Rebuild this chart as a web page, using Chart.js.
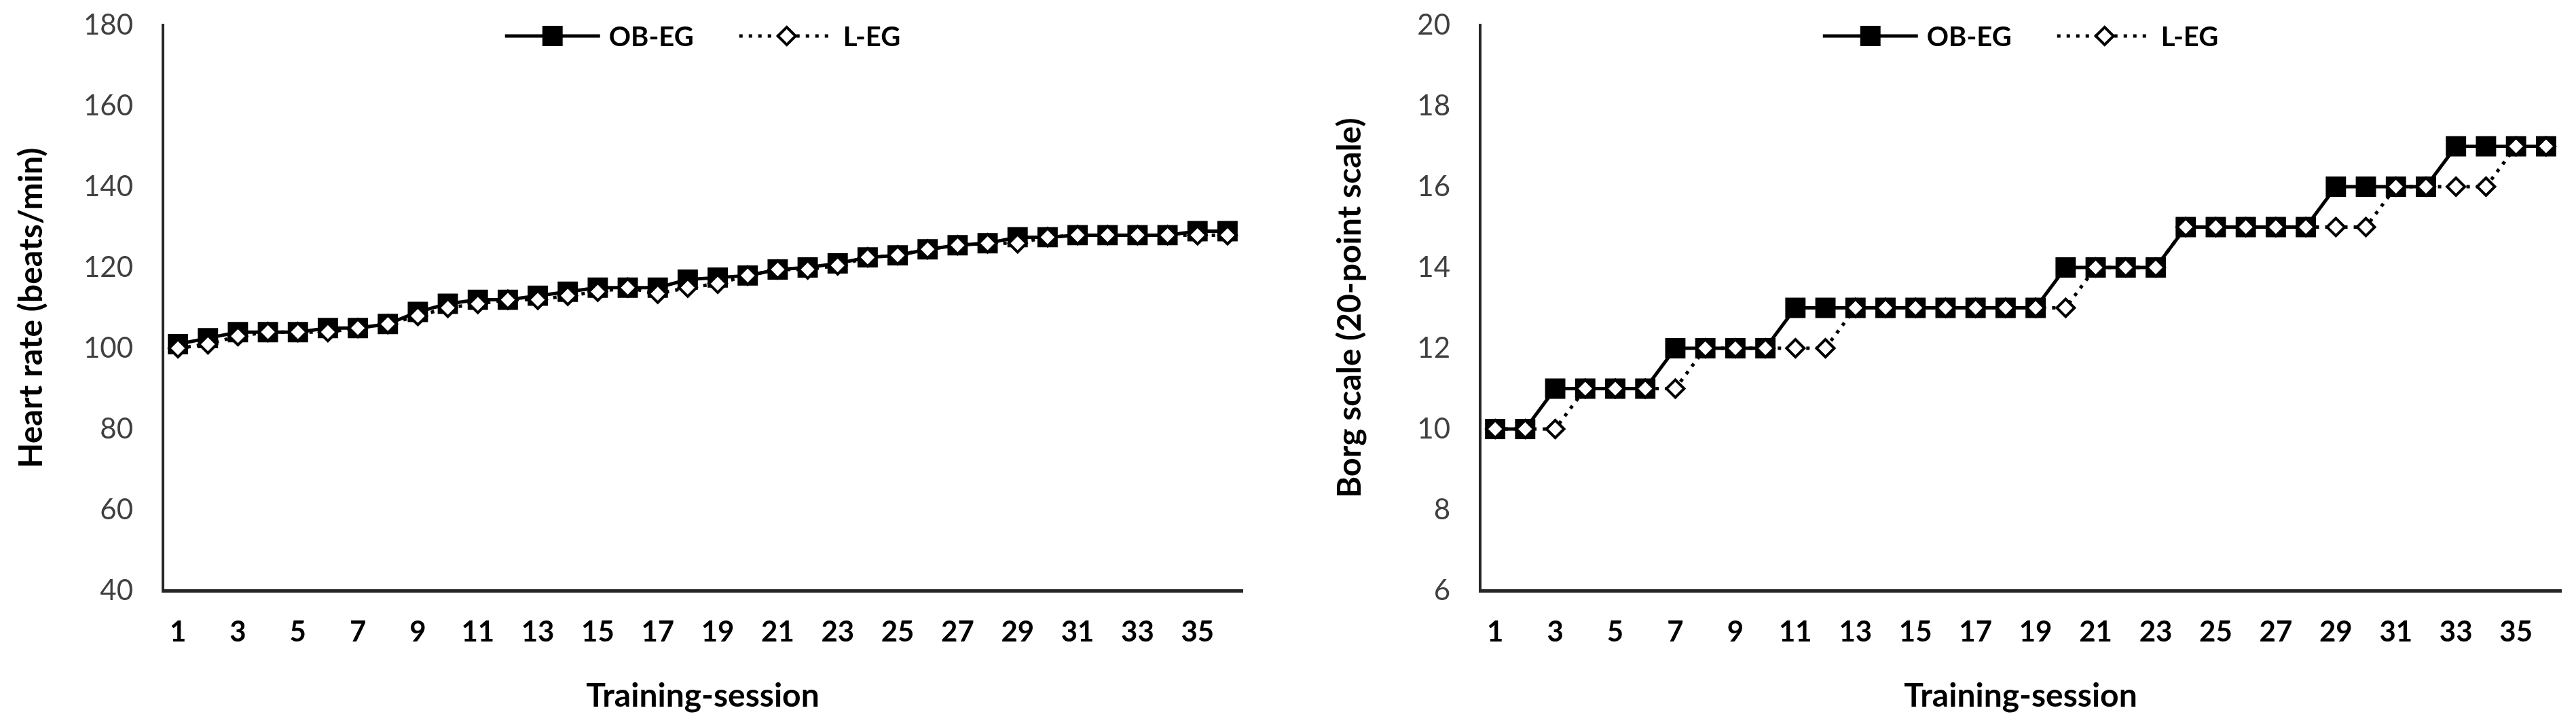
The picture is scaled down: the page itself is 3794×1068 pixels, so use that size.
<!DOCTYPE html>
<html>
<head>
<meta charset="utf-8">
<script src="https://cdn.jsdelivr.net/npm/chart.js@4/dist/chart.umd.min.js"></script>
<style>
  html, body { margin: 0; padding: 0; background: #ffffff; width: 3794px; height: 1068px; overflow: hidden; }
  .wrap { position: absolute; top: 0; height: 1068px; }
  #w1 { left: 0; width: 1900px; }
  #w2 { left: 1942px; width: 1852px; }
</style>
</head>
<body>
<div class="wrap" id="w1"><canvas id="c1" width="1900" height="1068"></canvas></div>
<div class="wrap" id="w2"><canvas id="c2" width="1852" height="1068"></canvas></div>
<script>
// ---------- data ----------
const sessions = ['1','2','3','4','5','6','7','8','9','10','11','12','13','14','15','16','17','18',
                  '19','20','21','22','23','24','25','26','27','28','29','30','31','32','33','34','35','36'];
const seriesNames = ['OB-EG', 'L-EG'];

const hrOBEG = [101, 102.5, 104, 104, 104, 105, 105, 106, 109, 111, 112, 112, 113, 114, 115, 115, 115, 117,
                117.5, 118, 119.5, 120, 121, 122.5, 123, 124.5, 125.5, 126, 127.5, 127.5, 128, 128, 128, 128, 129, 129];
const hrLEG  = [100, 101, 103, 104, 104, 104, 105, 106, 108, 110, 111, 112, 112, 113, 114, 115, 113.5, 115,
                116, 118, 119.5, 119.5, 120.5, 122.5, 123, 124.5, 125.5, 126, 126, 127.5, 128, 128, 128, 128, 128, 128];

const borgOBEG = [10, 10, 11, 11, 11, 11, 12, 12, 12, 12, 13, 13, 13, 13, 13, 13, 13, 13,
                  13, 14, 14, 14, 14, 15, 15, 15, 15, 15, 16, 16, 16, 16, 17, 17, 17, 17];
const borgLEG  = [10, 10, 10, 11, 11, 11, 11, 12, 12, 12, 12, 12, 13, 13, 13, 13, 13, 13,
                  13, 13, 14, 14, 14, 15, 15, 15, 15, 15, 15, 15, 16, 16, 16, 16, 17, 17];

const hrRange   = [40, 180, 20];
const borgRange = [6, 20, 2];

const hrTitle   = 'Heart rate (beats/min)';
const borgTitle = 'Borg scale (20-point scale)';
const xTitle    = 'Training-session';

// ---------- styling ----------
const FONT = 'Lato, "Open Sans", sans-serif';

function datasets(obeg, leg) {
  return [
    {
      label: seriesNames[0], data: obeg, order: 1,
      borderColor: '#000000', borderWidth: 5, backgroundColor: '#000000',
      pointStyle: 'rect', pointRadius: 19, pointBorderWidth: 3,
      pointBackgroundColor: '#000000', pointBorderColor: '#000000',
      tension: 0
    },
    {
      label: seriesNames[1], data: leg, order: 0,
      borderColor: '#000000', borderWidth: 5, borderDash: [5, 9], backgroundColor: '#ffffff',
      pointStyle: 'rectRot', pointRadius: 13, pointBorderWidth: 4,
      pointBackgroundColor: '#ffffff', pointBorderColor: '#000000',
      tension: 0
    }
  ];
}

const lineLegend = {
  id: 'lineLegend',
  afterDraw(chart) {
    const ctx = chart.ctx;
    const area = chart.chartArea;
    const y = 53, lineLen = 140, gap = 13, itemGap = 67;
    ctx.save();
    ctx.font = 'bold 40px ' + FONT;
    const dss = chart.data.datasets;
    const widths = dss.map(d => lineLen + gap + ctx.measureText(d.label).width);
    const total = widths.reduce((a, b) => a + b, 0) + itemGap * (dss.length - 1);
    let x = (area.left + area.right) / 2 - total / 2;
    dss.forEach((d, i) => {
      ctx.strokeStyle = d.borderColor;
      ctx.lineWidth = d.borderWidth;
      ctx.setLineDash(d.borderDash || []);
      ctx.beginPath();
      ctx.moveTo(x, y);
      ctx.lineTo(x + lineLen, y);
      ctx.stroke();
      ctx.setLineDash([]);
      const cx = x + lineLen / 2;
      ctx.fillStyle = d.pointBackgroundColor;
      ctx.lineWidth = d.pointBorderWidth;
      ctx.strokeStyle = d.pointBorderColor;
      ctx.beginPath();
      if (d.pointStyle === 'rect') {
        const s = d.pointRadius * Math.SQRT1_2;
        ctx.rect(cx - s, y - s, 2 * s, 2 * s);
      } else {
        const r = d.pointRadius;
        ctx.moveTo(cx - r, y); ctx.lineTo(cx, y - r); ctx.lineTo(cx + r, y); ctx.lineTo(cx, y + r);
        ctx.closePath();
      }
      ctx.fill();
      ctx.stroke();
      ctx.fillStyle = '#000000';
      ctx.textBaseline = 'middle';
      ctx.textAlign = 'left';
      ctx.fillText(d.label, x + lineLen + gap, y + 2);
      x += widths[i] + itemGap;
    });
    ctx.restore();
  }
};

function makeChart(id, obeg, leg, range, yTitle, axisWidth, padRight) {
  return new Chart(document.getElementById(id), {
    type: 'line',
    data: { labels: sessions, datasets: datasets(obeg, leg) },
    plugins: [lineLegend],
    options: {
      responsive: false,
      animation: false,
      events: [],
      layout: { padding: { top: 37, right: padRight, bottom: 0, left: 0 } },
      plugins: { legend: { display: false }, tooltip: { enabled: false } },
      scales: {
        x: {
          type: 'category',
          offset: true,
          grid: { display: false, drawTicks: false },
          border: { display: true, color: '#262626', width: 5 },
          ticks: {
            autoSkip: false, maxRotation: 0, minRotation: 0, padding: 36,
            color: '#000000', font: { family: FONT, size: 42, weight: 'bold' },
            callback: (v, i) => (i % 2 === 0 ? sessions[i] : '')
          },
          title: {
            display: true, text: xTitle, color: '#000000',
            font: { family: FONT, size: 48, weight: 'bold' },
            padding: { top: 0, bottom: 14 }
          },
          afterFit: s => { s.height = 198; s.paddingLeft = 0; s.paddingRight = 0; }
        },
        y: {
          min: range[0], max: range[1],
          grid: { display: false, drawTicks: false },
          border: { display: true, color: '#262626', width: 4 },
          ticks: {
            stepSize: range[2], padding: 44, color: '#404040',
            font: { family: FONT, size: 42 }
          },
          title: {
            display: true, text: yTitle, color: '#000000',
            font: { family: FONT, size: 48, weight: 'bold' },
            padding: { top: 18, bottom: 0 }
          },
          afterFit: s => { s.width = axisWidth; s.paddingTop = 0; s.paddingBottom = 0; }
        }
      }
    }
  });
}

makeChart('c1', hrOBEG, hrLEG, hrRange, hrTitle, 240, 70);
makeChart('c2', borgOBEG, borgLEG, borgRange, borgTitle, 238, 9);
</script>
</body>
</html>
